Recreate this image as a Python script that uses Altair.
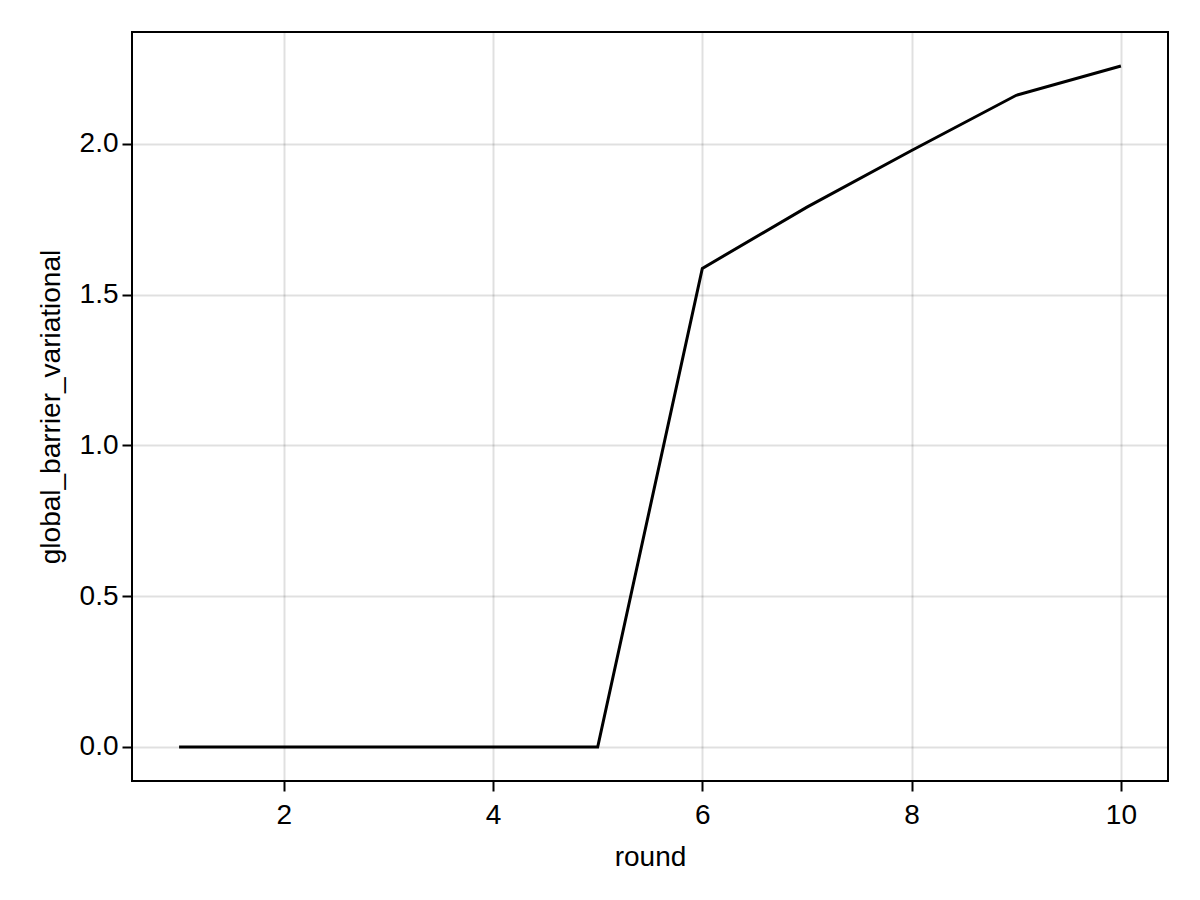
import altair as alt
import pandas as pd

rounds = [1, 2, 3, 4, 5, 6, 7, 8, 9, 10]
values = [0.0, 0.0, 0.0, 0.0, 0.0, 1.587, 1.790, 1.978, 2.161, 2.258]

x_ticks = [2, 4, 6, 8, 10]
y_ticks = [0.0, 0.5, 1.0, 1.5, 2.0]

df = pd.DataFrame({"round": rounds, "global_barrier_variational": values})

FONT = "Liberation Sans"
FS = 28

ymin, ymax = min(values), max(values)
ypad = 0.05 * (ymax - ymin)
xpad = 0.05 * (max(rounds) - min(rounds))

axis_common = dict(
    grid=True,
    gridColor="black",
    gridOpacity=0.12,
    gridWidth=2,
    domain=False,
    ticks=True,
    tickColor="black",
    tickWidth=2,
    tickSize=10,
    labelFont=FONT,
    labelFontSize=FS,
    labelColor="black",
    titleFont=FONT,
    titleFontSize=FS,
    titleFontWeight="normal",
    titleColor="black",
)

chart = (
    alt.Chart(df)
    .mark_line(color="black", strokeWidth=3, clip=True)
    .encode(
        x=alt.X(
            "round:Q",
            scale=alt.Scale(domain=[min(rounds) - xpad, max(rounds) + xpad], nice=False, zero=False),
            axis=alt.Axis(values=x_ticks, format="d", labelPadding=10, titlePadding=14, **axis_common),
        ),
        y=alt.Y(
            "global_barrier_variational:Q",
            scale=alt.Scale(domain=[ymin - ypad, ymax + ypad], nice=False, zero=False),
            axis=alt.Axis(values=y_ticks, format=".1f", labelPadding=4, titlePadding=14, **axis_common),
        ),
    )
    .properties(
        width=1036,
        height=749,
        autosize=alt.AutoSizeParams(type="none"),
        padding={"left": 124, "top": 24, "right": 24, "bottom": 111},
    )
    .configure(background="white", view=alt.ViewConfig(stroke="black", strokeWidth=2, strokeOpacity=1))
)

chart.save("out.html", embed_options={"renderer": "svg", "actions": False})
